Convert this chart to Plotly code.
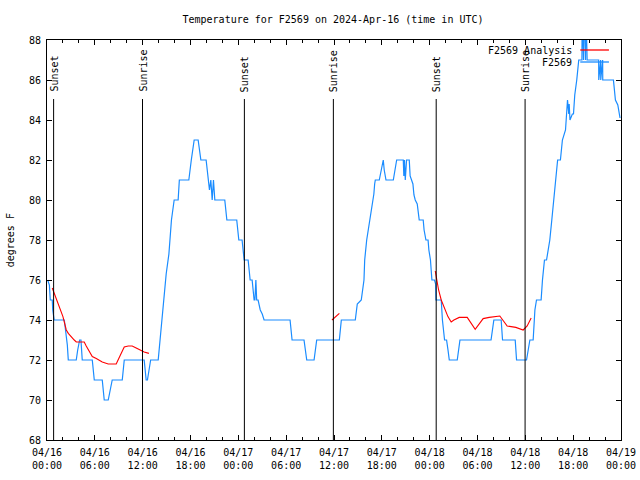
import plotly.graph_objects as go
import pandas as pd

BASE = pd.Timestamp("2024-04-16 00:00")

# Observed temperature F2569 (hours since 04/16 00:00 UTC, degrees F)
obs_hours = [0.08, 0.3, 0.41, 0.66, 0.72, 0.9, 2.17, 2.35, 2.45, 2.55, 2.67, 3.67, 3.85, 4.09, 4.26, 4.42,
             5.68, 5.93, 6.93, 7.18, 7.68, 7.9, 8.18, 9.44, 9.69, 12.19, 12.44, 12.6, 12.8, 13.0, 13.95,
             14.11, 14.28, 14.61, 14.95, 15.29, 15.61, 15.95, 16.45, 16.6, 17.79, 18.1, 18.46, 18.96,
             19.3, 19.96, 20.3, 20.38, 20.55, 20.72, 20.88, 21.05, 22.3, 22.56, 23.8, 24.06, 24.47,
             24.6, 24.73, 25.23, 25.48, 25.73, 25.98, 26.08, 26.13, 26.2, 26.3, 26.48, 26.75, 27.0,
             27.23, 30.49, 30.74, 32.24, 32.58, 33.5, 33.83, 36.67, 36.92, 38.67, 38.92, 39.42, 39.76,
             39.85, 40.1, 40.4, 40.6, 40.85, 41.0, 41.1, 41.18, 41.68, 42.02, 42.18, 42.3, 42.52,
             43.44, 43.7, 43.86, 44.69, 44.76, 44.84, 44.94, 45.1, 45.44, 45.55, 45.69, 45.9, 46.03,
             46.19, 46.44, 46.55, 46.69, 47.19, 47.3, 47.53, 47.8, 47.9, 48.1, 48.28, 48.6, 48.75,
             48.79, 49.45, 49.6, 49.87, 50.12, 50.3, 50.46, 51.46, 51.8, 55.7, 56.05, 56.97, 57.14,
             58.73, 58.9, 60.15, 60.57, 60.98, 61.2, 61.4, 61.98, 62.15, 62.4, 62.66, 62.9, 63.07,
             63.32, 63.58, 63.83, 64.05, 64.4, 64.65, 65.04, 65.29, 65.45, 65.5, 65.6, 65.9, 66.04,
             66.2, 66.45, 66.7, 67.1, 67.13, 67.3, 67.33, 67.55, 67.58, 67.75, 67.8, 69.2,
             69.21, 69.45, 69.46, 69.7, 69.71, 69.96, 71.05, 71.3, 71.6, 71.88]
obs_temps = [76, 75.75, 75, 75, 74.5, 74, 74, 73.5, 73.25, 72.75, 72, 72, 72.5, 73, 73, 72,
             72, 71, 71, 70, 70, 70.5, 71, 71, 72, 72, 71, 71, 71.5, 72, 72,
             72.7, 73.3, 74.7, 76.3, 77.3, 79, 80, 80, 81, 81, 82, 83, 83,
             82, 82, 81, 80.5, 81, 80, 81, 80, 80, 79, 79, 78, 78,
             77.3, 77, 77, 76, 76, 75, 75, 76, 76, 75, 75, 74.5, 74.3,
             74, 74, 73, 73, 72, 72, 73, 73, 74, 74, 74.8, 75, 76,
             77, 78, 78.7, 79.2, 79.8, 80.3, 80.8, 81, 81, 81.75, 82, 81.5, 81,
             81, 81.6, 82, 82, 81.2, 82, 81, 82, 82, 81.2, 81, 80.8, 80.25,
             80, 79.8, 79.3, 79, 79, 78.5, 78, 78, 77.5, 77, 76, 76, 75.8,
             75, 75, 74, 73, 73, 72.5, 72, 72, 73, 73, 74, 74, 73,
             73, 72, 72, 73, 73, 74.5, 75, 75, 76, 77, 77, 77.6, 78,
             79, 80, 81, 82, 82, 83, 83.5, 85, 84.3, 84.8, 84, 84.3, 84.3,
             85.25, 86, 87, 87, 90, 87, 90, 87, 90, 87, 87, 87,
             86, 87, 86, 87, 86, 86, 86, 85, 84.75, 84.1]

# F2569 Analysis segments
ana1_hours = [0.66, 1.0, 1.25, 1.5, 1.75, 2.0, 2.17, 2.42, 2.67, 2.92, 3.17, 3.42, 3.67, 4.67, 4.92,
              5.17, 5.43, 5.68, 6.18, 6.68, 6.93, 7.68, 8.68, 9.18, 9.69, 10.19, 10.69, 11.19, 11.69,
              12.19, 12.78]
ana1_temps = [75.6, 75.25, 75.0, 74.7, 74.4, 74.17, 73.9, 73.5, 73.33, 73.2, 73.1, 73.0, 72.9, 72.9, 72.7,
              72.5, 72.3, 72.17, 72.07, 71.97, 71.9, 71.8, 71.8, 72.23, 72.65, 72.7, 72.7, 72.6, 72.5,
              72.4, 72.33]
ana2_hours = [35.75, 36.67]
ana2_temps = [74.0, 74.33]
ana3_hours = [48.7, 48.87, 49.12, 49.45, 49.79, 50.29, 50.7, 51.04, 51.71, 52.71, 53.71, 54.71, 55.47,
              56.3, 56.8, 57.72, 58.81, 59.73, 60.23, 60.73]
ana3_temps = [76.45, 76.0, 75.5, 75.0, 74.67, 74.17, 73.9, 74.0, 74.13, 74.13, 73.53, 74.07, 74.13,
              74.17, 74.2, 73.7, 73.63, 73.5, 73.7, 74.1]

sunset_hours = [0.83, 24.76, 48.82]
sunrise_hours = [11.98, 35.92, 59.97]

y_ticks = [68, 70, 72, 74, 76, 78, 80, 82, 84, 86, 88]

FONT = "DejaVu Sans Mono"
BLUE = "#1a8cff"
RED = "#ff0000"
FIG_W, FIG_H = 640, 480


def to_time(hours):
    return [BASE + pd.Timedelta(hours=h) if h is not None else None for h in hours]


ana_hours = ana1_hours + [None] + ana2_hours + [None] + ana3_hours
ana_temps = ana1_temps + [None] + ana2_temps + [None] + ana3_temps

fig = go.Figure()
fig.add_trace(go.Scatter(x=to_time(obs_hours), y=obs_temps, mode="lines",
                         line=dict(color=BLUE, width=1.2), name="F2569"))
fig.add_trace(go.Scatter(x=to_time(ana_hours), y=ana_temps, mode="lines",
                         line=dict(color=RED, width=1.1), name="F2569 Analysis",
                         connectgaps=False))

shapes = []
annotations = []
for label, hrs in (("Sunset", sunset_hours), ("Sunrise", sunrise_hours)):
    for h in hrs:
        t = BASE + pd.Timedelta(hours=h)
        shapes.append(dict(type="line", xref="x", yref="y", x0=t, x1=t, y0=68, y1=85.05,
                           line=dict(color="black", width=1)))
        annotations.append(dict(x=t, y=85.3, xref="x", yref="y", text=label, textangle=-90,
                                showarrow=False, xanchor="center", yanchor="bottom",
                                font=dict(family=FONT, size=10, color="black")))

# gnuplot-style key (text then sample line)
legend_entries = [("F2569 Analysis", RED, 0.975), ("F2569", BLUE, 0.945)]
for text, col, yy in legend_entries:
    annotations.append(dict(x=0.918, y=yy, xref="paper", yref="paper", text=text, showarrow=False,
                            xanchor="right", yanchor="middle",
                            font=dict(family=FONT, size=10, color="black")))
    shapes.append(dict(type="line", xref="paper", yref="paper", x0=0.929, x1=0.979, y0=yy, y1=yy,
                       line=dict(color=col, width=1.3)))

annotations.append(dict(x=-0.064, y=0.5, xref="paper", yref="paper", text="degrees F", textangle=-90,
                        showarrow=False, xanchor="center", yanchor="middle",
                        font=dict(family=FONT, size=10, color="black")))

fig.update_layout(
    width=FIG_W, height=FIG_H,
    margin=dict(l=47, r=19, t=40, b=40, autoexpand=False),
    paper_bgcolor="white", plot_bgcolor="white",
    showlegend=False,
    title=dict(text="Temperature for F2569 on 2024-Apr-16 (time in UTC)", x=333 / FIG_W, xanchor="center",
               y=1 - 19 / FIG_H, yanchor="middle", yref="container", automargin=False,
               font=dict(family=FONT, size=10, color="black")),
    shapes=shapes,
    annotations=annotations,
    font=dict(family=FONT, size=10, color="black"),
)
fig.update_xaxes(
    type="date", range=[BASE, BASE + pd.Timedelta(hours=72)], automargin=False,
    showline=True, linecolor="black", linewidth=1, mirror="ticks",
    ticks="inside", ticklen=5, tickcolor="black", tickwidth=1,
    dtick=6 * 3600 * 1000, tick0=BASE, tickformat="%m/%d<br>%H:%M",
    showgrid=False, zeroline=False, ticklabelstandoff=3,
    tickfont=dict(family=FONT, size=10, color="black"),
    minor=dict(dtick=2 * 3600 * 1000, ticks="inside", ticklen=3, tickcolor="black", showgrid=False),
)
fig.update_yaxes(
    range=[68, 88], tickvals=y_ticks, ticktext=[str(v) for v in y_ticks], automargin=False,
    showline=True, linecolor="black", linewidth=1, mirror="ticks",
    ticks="inside", ticklen=5, tickcolor="black", tickwidth=1,
    showgrid=False, zeroline=False, ticklabelstandoff=3,
    tickfont=dict(family=FONT, size=10, color="black"),
)

# remove the page's default body margin so the 640x480 figure fills the window exactly
fig.write_html("out.html",
               config={"displayModeBar": False, "staticPlot": True},
               post_script="document.body.style.margin='0';document.body.style.overflow='hidden';")
